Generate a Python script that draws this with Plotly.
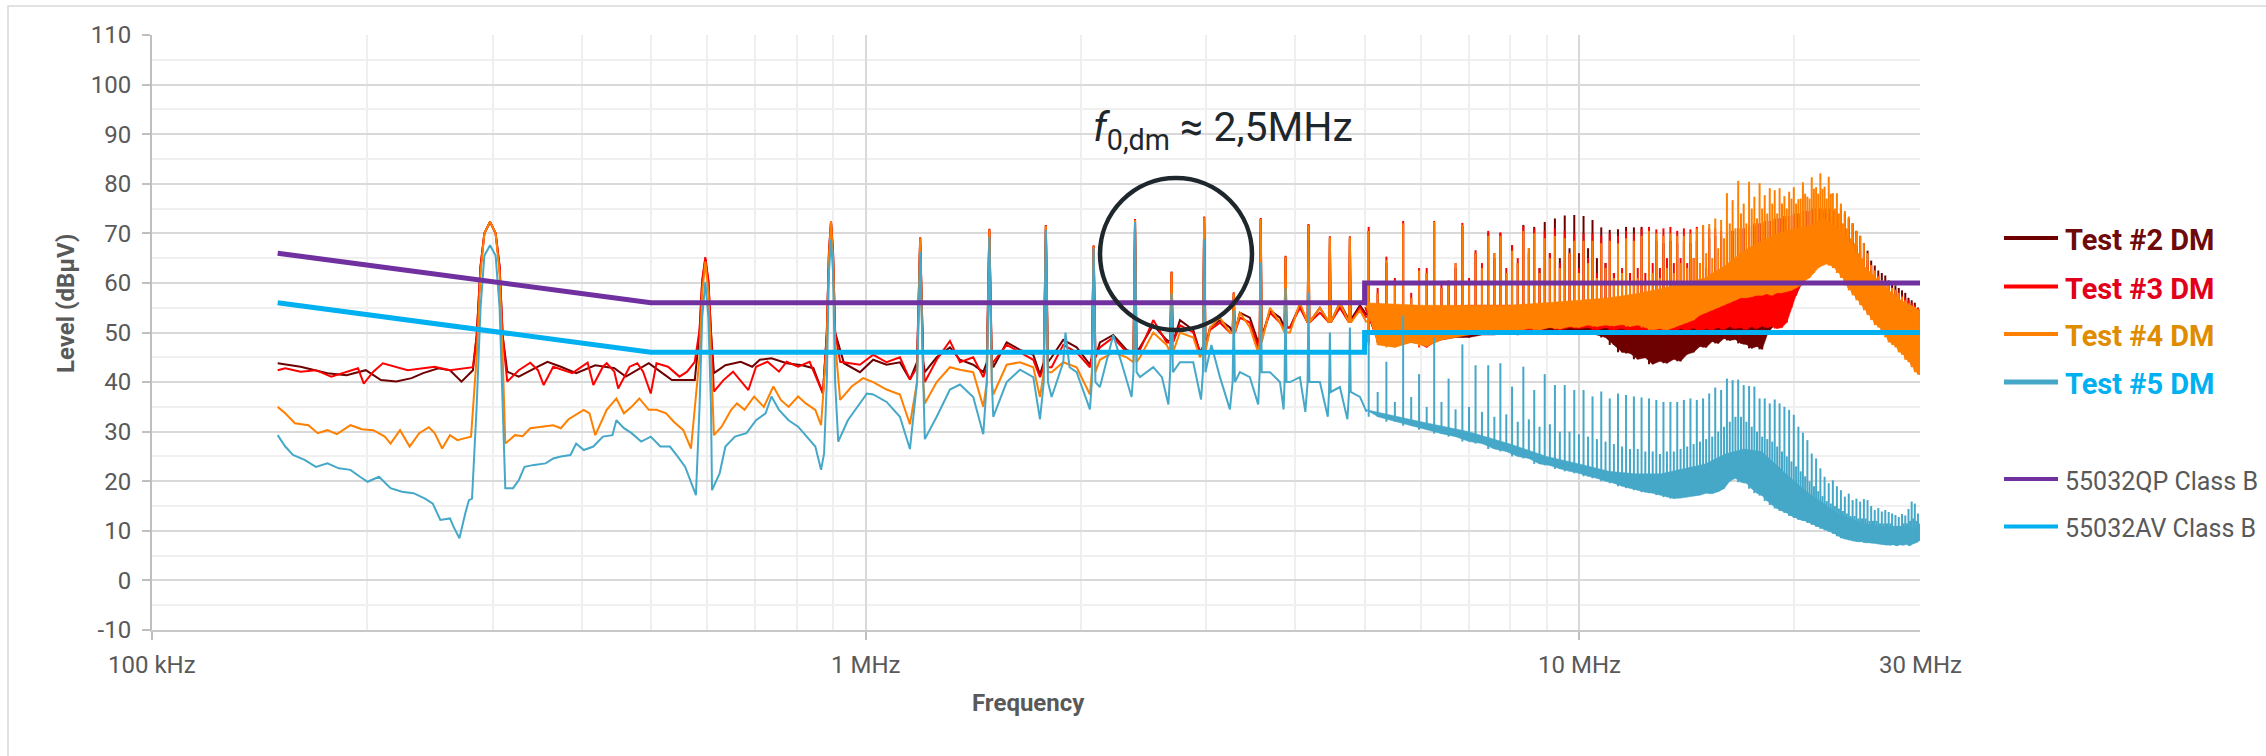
import math
import plotly.graph_objects as go

# ---------------- EN 55032 class B conducted limits ----------------
limit_f = [0.15, 0.5, 5.0, 5.0, 30.0]          # MHz
qp_db = [66, 56, 56, 60, 60]
av_db = [56, 46, 46, 50, 50]

# ---------------- spectra below 5 MHz (MHz, dBuV) ----------------
t2_lo_f = [
    0.1500, 0.1615, 0.1761, 0.1873, 0.1993, 0.2093, 0.2199, 0.2311, 0.2398, 0.2519,
    0.2615, 0.2714, 0.2816, 0.2850, 0.2886, 0.2922, 0.2976, 0.3030, 0.3069, 0.3100,
    0.3146, 0.3265, 0.3473, 0.3582, 0.3740, 0.3929, 0.4179, 0.4444, 0.4612, 0.4967,
    0.5155, 0.5351, 0.5761, 0.5850, 0.5900, 0.5960, 0.6020, 0.6070, 0.6128, 0.6359,
    0.6681, 0.6933, 0.7106, 0.7378, 0.7748, 0.8142, 0.8446, 0.8711, 0.8820, 0.8880,
    0.8940, 0.9000, 0.9060, 0.9323, 0.9815, 1.0245, 1.0696, 1.1166, 1.1532, 1.1800,
    1.1920, 1.2040, 1.2100, 1.2572, 1.3122, 1.3552, 1.4145, 1.4611, 1.4780, 1.4900,
    1.5020, 1.5089, 1.5757, 1.6450, 1.7170, 1.7545, 1.7760, 1.7880, 1.8000, 1.8216,
    1.8911, 1.9747, 2.0612, 2.0740, 2.0860, 2.0980, 2.1287, 2.2223, 2.3200, 2.3720,
    2.3840, 2.3960, 2.4224, 2.5287, 2.6400, 2.6700, 2.6820, 2.6940, 2.7558, 2.8769,
    2.9395, 2.9680, 2.9800, 2.9920, 3.0359, 3.1352, 3.2378, 3.2660, 3.2780, 3.2900,
    3.3437, 3.4530, 3.5468, 3.5640, 3.5760, 3.5880, 3.6846, 3.8051, 3.8620, 3.8740,
    3.8860, 3.9296, 4.0582, 4.1600, 4.1720, 4.1840, 4.3283, 4.4580, 4.4700, 4.4820,
    4.6166, 4.7550, 4.7680, 4.7810, 4.9252, 5.0322]
t2_lo_db = [
    43.8, 43.1, 41.8, 41.4, 42.4, 40.4, 40.1, 40.8, 41.8, 42.8,
    42.4, 40.1, 42.4, 49.2, 63.3, 70.0, 72.3, 70.0, 63.3, 49.2,
    42.1, 41.1, 43.1, 44.1, 43.1, 41.8, 43.4, 42.8, 41.1, 43.8,
    42.1, 40.4, 40.4, 50.0, 60.0, 64.8, 60.0, 50.0, 41.8, 43.4,
    44.1, 43.1, 44.5, 44.8, 43.8, 43.4, 42.8, 37.7, 50.0, 66.0,
    72.3, 66.0, 50.0, 43.8, 42.0, 44.5, 43.5, 44.0, 40.5, 44.0,
    69.0, 44.0, 42.0, 45.0, 47.0, 44.5, 43.5, 42.0, 44.0, 70.7,
    44.0, 43.0, 48.0, 46.5, 45.5, 41.5, 44.0, 71.5, 44.0, 45.0,
    48.5, 47.0, 43.5, 45.0, 67.4, 45.0, 48.0, 49.5, 46.5, 46.0,
    72.7, 46.0, 47.0, 51.5, 48.5, 48.0, 62.1, 48.0, 52.5, 50.5,
    46.0, 47.0, 73.2, 47.0, 51.0, 52.5, 51.0, 50.0, 57.9, 50.0,
    54.0, 53.0, 48.0, 49.0, 72.9, 49.0, 54.5, 53.0, 51.0, 65.3,
    51.0, 51.0, 55.5, 52.0, 71.7, 52.0, 55.0, 52.0, 69.2, 52.0,
    56.0, 52.5, 69.2, 52.5, 55.5, 53.5]

t3_lo_f = [
    0.1500, 0.1537, 0.1615, 0.1697, 0.1783, 0.1873, 0.1944, 0.1980, 0.2042, 0.2106,
    0.2199, 0.2282, 0.2398, 0.2489, 0.2615, 0.2747, 0.2816, 0.2850, 0.2886, 0.2922,
    0.2976, 0.3030, 0.3069, 0.3100, 0.3146, 0.3265, 0.3388, 0.3473, 0.3538, 0.3649,
    0.3881, 0.4077, 0.4153, 0.4283, 0.4336, 0.4444, 0.4500, 0.4669, 0.4786, 0.4876,
    0.4998, 0.5091, 0.5284, 0.5483, 0.5620, 0.5761, 0.5850, 0.5900, 0.5960, 0.6020,
    0.6070, 0.6128, 0.6320, 0.6518, 0.6848, 0.7020, 0.7285, 0.7559, 0.7748, 0.8040,
    0.8344, 0.8711, 0.8820, 0.8880, 0.8940, 0.9000, 0.9060, 0.9208, 0.9815, 1.0245,
    1.0696, 1.1166, 1.1532, 1.1800, 1.1920, 1.2040, 1.2100, 1.2572, 1.3122, 1.3552,
    1.4145, 1.4611, 1.4780, 1.4900, 1.5020, 1.5089, 1.5757, 1.6450, 1.7170, 1.7545,
    1.7760, 1.7880, 1.8000, 1.8216, 1.8911, 1.9747, 2.0612, 2.0740, 2.0860, 2.0980,
    2.1287, 2.2223, 2.3200, 2.3720, 2.3840, 2.3960, 2.4224, 2.5287, 2.6400, 2.6700,
    2.6820, 2.6940, 2.7558, 2.8769, 2.9395, 2.9680, 2.9800, 2.9920, 3.0359, 3.1352,
    3.2378, 3.2660, 3.2780, 3.2900, 3.3437, 3.4530, 3.5468, 3.5640, 3.5760, 3.5880,
    3.6846, 3.8051, 3.8620, 3.8740, 3.8860, 3.9296, 4.0582, 4.1600, 4.1720, 4.1840,
    4.3283, 4.4580, 4.4700, 4.4820, 4.6166, 4.7550, 4.7680, 4.7810, 4.9252, 5.0322]
t3_lo_db = [
    42.4, 42.8, 42.1, 42.4, 41.1, 42.1, 42.8, 39.7, 42.1, 43.8,
    43.1, 42.4, 42.8, 43.1, 42.4, 42.8, 43.0, 49.2, 63.3, 70.0,
    72.35, 70.0, 63.3, 49.2, 40.1, 42.4, 43.9, 42.4, 39.4, 43.1,
    41.8, 43.9, 39.4, 43.1, 43.8, 42.1, 38.7, 43.1, 43.8, 42.1,
    37.7, 43.8, 43.1, 41.1, 42.1, 44.1, 50.5, 60.5, 65.2, 60.5,
    50.5, 38.1, 40.4, 42.1, 38.4, 43.1, 44.1, 42.1, 44.1, 43.1,
    44.1, 37.7, 50.0, 66.0, 72.35, 66.0, 50.0, 44.1, 43.5, 45.5,
    44.0, 45.0, 40.5, 43.0, 69.2, 43.0, 40.0, 44.5, 48.3, 44.0,
    45.0, 41.0, 43.0, 70.9, 43.0, 44.0, 47.5, 46.0, 44.5, 41.0,
    43.0, 71.7, 43.0, 43.0, 47.5, 46.0, 43.0, 45.0, 67.6, 45.0,
    47.0, 49.0, 46.0, 46.0, 72.9, 46.0, 46.5, 52.5, 48.0, 48.0,
    62.3, 48.0, 51.5, 50.0, 46.0, 47.0, 73.4, 47.0, 50.5, 52.0,
    50.0, 50.0, 58.1, 50.0, 53.0, 52.0, 47.0, 49.0, 73.1, 49.0,
    54.0, 52.0, 51.0, 65.5, 51.0, 51.0, 55.0, 52.0, 71.9, 52.0,
    54.0, 52.0, 69.4, 52.0, 55.0, 52.0, 69.4, 52.0, 55.0, 53.0]

t4_lo_f = [
    0.1500, 0.1537, 0.1586, 0.1656, 0.1707, 0.1761, 0.1816, 0.1897, 0.1968, 0.2042,
    0.2119, 0.2159, 0.2226, 0.2296, 0.2368, 0.2443, 0.2489, 0.2550, 0.2615, 0.2679,
    0.2747, 0.2799, 0.2850, 0.2886, 0.2922, 0.2976, 0.3030, 0.3069, 0.3100, 0.3126,
    0.3225, 0.3306, 0.3388, 0.3560, 0.3649, 0.3740, 0.3834, 0.4027, 0.4102, 0.4179,
    0.4336, 0.4473, 0.4584, 0.4698, 0.4817, 0.4967, 0.5091, 0.5252, 0.5383, 0.5552,
    0.5691, 0.5850, 0.5900, 0.5960, 0.6020, 0.6070, 0.6128, 0.6281, 0.6478, 0.6600,
    0.6764, 0.6976, 0.7197, 0.7423, 0.7604, 0.7796, 0.8040, 0.8242, 0.8499, 0.8658,
    0.8820, 0.8880, 0.8940, 0.9000, 0.9060, 0.9208, 0.9556, 0.9916, 1.0245, 1.0696,
    1.1166, 1.1532, 1.1800, 1.1920, 1.2040, 1.2100, 1.2572, 1.3122, 1.3552, 1.4145,
    1.4611, 1.4780, 1.4900, 1.5020, 1.5089, 1.5757, 1.6450, 1.7170, 1.7545, 1.7760,
    1.7880, 1.8000, 1.8216, 1.8911, 1.9747, 2.0612, 2.0740, 2.0860, 2.0980, 2.1287,
    2.2223, 2.3200, 2.3720, 2.3840, 2.3960, 2.4224, 2.5287, 2.6400, 2.6700, 2.6820,
    2.6940, 2.7558, 2.8769, 2.9395, 2.9680, 2.9800, 2.9920, 3.0359, 3.1352, 3.2378,
    3.2660, 3.2780, 3.2900, 3.3437, 3.4530, 3.5468, 3.5640, 3.5760, 3.5880, 3.6846,
    3.8051, 3.8620, 3.8740, 3.8860, 3.9296, 4.0582, 4.1600, 4.1720, 4.1840, 4.3283,
    4.4580, 4.4700, 4.4820, 4.6166, 4.7550, 4.7680, 4.7810, 4.9252, 5.0322]
t4_lo_db = [
    35.0, 33.7, 31.7, 31.3, 29.7, 30.3, 29.5, 31.3, 30.5, 30.3,
    29.0, 27.6, 30.3, 27.0, 29.7, 30.9, 29.7, 26.6, 29.3, 28.3,
    28.7, 29.0, 45.0, 62.0, 70.0, 72.35, 70.0, 62.0, 45.0, 27.6,
    29.3, 29.1, 30.7, 31.0, 31.3, 30.7, 32.5, 34.4, 33.7, 29.3,
    34.4, 36.7, 33.7, 35.0, 36.7, 34.4, 34.4, 33.7, 32.0, 30.3,
    26.6, 45.0, 58.0, 64.3, 58.0, 45.0, 29.3, 31.0, 34.4, 35.7,
    34.4, 37.1, 35.0, 39.1, 36.4, 35.0, 37.1, 35.7, 34.4, 31.3,
    48.0, 65.0, 72.35, 65.0, 48.0, 36.4, 39.1, 40.8, 40.0, 38.5,
    37.5, 31.5, 40.0, 69.0, 40.0, 35.7, 40.0, 43.0, 42.5, 42.0,
    35.0, 40.0, 70.7, 40.0, 37.5, 43.5, 44.0, 43.0, 37.0, 42.0,
    71.5, 42.0, 42.0, 44.0, 43.0, 37.5, 42.0, 67.4, 42.0, 44.5,
    46.0, 45.0, 44.0, 72.7, 44.0, 45.0, 50.0, 47.5, 46.0, 62.1,
    46.0, 50.0, 49.0, 45.0, 46.0, 73.2, 46.0, 51.0, 53.0, 50.0,
    50.0, 57.9, 50.0, 54.0, 51.0, 46.0, 48.0, 72.9, 48.0, 55.0,
    52.0, 50.0, 65.3, 50.0, 50.0, 56.0, 52.0, 71.7, 52.0, 55.0,
    52.0, 69.2, 52.0, 56.0, 52.0, 69.2, 52.0, 54.5, 52.0]

t5_lo_f = [
    0.1500, 0.1537, 0.1576, 0.1636, 0.1697, 0.1761, 0.1827, 0.1897, 0.1956, 0.2005,
    0.2080, 0.2159, 0.2240, 0.2325, 0.2413, 0.2474, 0.2535, 0.2615, 0.2646, 0.2696,
    0.2747, 0.2780, 0.2808, 0.2850, 0.2886, 0.2922, 0.2976, 0.3030, 0.3069, 0.3100,
    0.3126, 0.3205, 0.3265, 0.3326, 0.3430, 0.3560, 0.3649, 0.3740, 0.3857, 0.3929,
    0.4027, 0.4153, 0.4283, 0.4417, 0.4473, 0.4584, 0.4698, 0.4846, 0.4998, 0.5155,
    0.5317, 0.5450, 0.5586, 0.5782, 0.5850, 0.5900, 0.5960, 0.6020, 0.6070, 0.6090,
    0.6242, 0.6359, 0.6559, 0.6806, 0.7020, 0.7239, 0.7378, 0.7559, 0.7796, 0.8040,
    0.8344, 0.8499, 0.8658, 0.8743, 0.8820, 0.8880, 0.8940, 0.9000, 0.9060, 0.9151,
    0.9440, 0.9733, 1.0039, 1.0245, 1.0696, 1.1166, 1.1532, 1.1800, 1.1920, 1.2040,
    1.2100, 1.2572, 1.3122, 1.3552, 1.4145, 1.4611, 1.4780, 1.4900, 1.5020, 1.5089,
    1.5757, 1.6450, 1.7170, 1.7545, 1.7760, 1.7880, 1.8000, 1.8216, 1.8911, 1.9050,
    1.9300, 1.9747, 2.0612, 2.0740, 2.0860, 2.0980, 2.1287, 2.2223, 2.3000, 2.3577,
    2.3720, 2.3840, 2.3960, 2.4224, 2.5287, 2.6000, 2.6550, 2.6700, 2.6820, 2.6940,
    2.7558, 2.8769, 2.9500, 2.9680, 2.9800, 2.9920, 3.0500, 3.1352, 3.2378, 3.2660,
    3.2780, 3.2900, 3.3437, 3.4530, 3.5468, 3.5640, 3.5760, 3.5880, 3.6846, 3.8051,
    3.8500, 3.8620, 3.8740, 3.8860, 3.9296, 4.0582, 4.1300, 4.1600, 4.1720, 4.1840,
    4.3283, 4.4400, 4.4580, 4.4700, 4.4820, 4.6166, 4.7300, 4.7550, 4.7680, 4.7810,
    4.9252, 5.0322]
t5_lo_db = [
    29.3, 27.0, 25.3, 24.3, 22.9, 23.6, 22.6, 22.3, 20.9, 19.9,
    20.9, 18.6, 17.9, 17.6, 16.5, 15.5, 12.2, 12.5, 10.8, 8.5,
    13.5, 16.2, 16.5, 35.0, 55.0, 65.5, 67.6, 65.5, 55.0, 35.0,
    18.6, 18.6, 20.2, 22.9, 23.3, 23.6, 24.6, 25.0, 25.3, 27.6,
    26.3, 27.0, 29.0, 29.3, 32.3, 30.7, 29.7, 28.0, 29.0, 27.0,
    27.0, 25.0, 22.9, 17.2, 35.0, 53.0, 60.2, 53.0, 35.0, 18.2,
    21.6, 27.0, 29.0, 29.7, 32.3, 33.7, 37.1, 34.4, 32.3, 31.0,
    28.3, 27.0, 22.3, 25.6, 40.0, 62.0, 68.8, 62.0, 40.0, 28.0,
    32.3, 35.0, 37.7, 37.5, 36.0, 33.0, 26.5, 40.0, 66.3, 40.0,
    28.5, 33.0, 38.5, 39.5, 37.0, 29.5, 40.0, 69.3, 40.0, 33.0,
    40.0, 42.5, 41.0, 32.5, 40.0, 70.7, 40.0, 37.0, 44.0, 50.0,
    43.0, 42.0, 34.5, 40.0, 67.0, 40.0, 39.0, 49.5, 42.0, 37.0,
    42.0, 72.3, 42.0, 41.0, 43.0, 41.0, 35.5, 42.0, 57.9, 42.0,
    44.0, 44.0, 36.5, 42.0, 68.8, 42.0, 47.5, 41.0, 34.5, 40.0,
    54.5, 40.0, 42.0, 41.0, 35.5, 42.0, 64.1, 42.0, 42.0, 40.0,
    34.5, 40.0, 58.9, 40.0, 40.0, 41.0, 34.0, 40.0, 58.0, 40.0,
    40.0, 33.0, 38.0, 50.0, 38.0, 39.0, 32.5, 38.0, 51.0, 38.0,
    37.0, 34.0]

# ---------------- 5-30 MHz: harmonic lines and noise band ----------------
# harmonic frequencies (MHz), orders 17..100 of the ~298 kHz switching frequency
harm_f = [
    5.066, 5.364, 5.662, 5.960, 6.258, 6.556, 6.854, 7.152, 7.450, 7.748,
    8.046, 8.344, 8.642, 8.940, 9.238, 9.536, 9.834, 10.132, 10.430, 10.728,
    11.026, 11.324, 11.622, 11.920, 12.218, 12.516, 12.814, 13.112, 13.410, 13.708,
    14.006, 14.304, 14.602, 14.900, 15.198, 15.496, 15.794, 16.092, 16.390, 16.688,
    16.986, 17.284, 17.582, 17.880, 18.178, 18.476, 18.774, 19.072, 19.370, 19.668,
    19.966, 20.264, 20.562, 20.860, 21.158, 21.456, 21.754, 22.052, 22.350, 22.648,
    22.946, 23.244, 23.542, 23.840, 24.138, 24.436, 24.734, 25.032, 25.330, 25.628,
    25.926, 26.224, 26.522, 26.820, 27.118, 27.416, 27.714, 28.012, 28.310, 28.608,
    28.906, 29.204, 29.502, 29.800]
# points halfway between harmonics (MHz)
mid_f = [
    5.215, 5.513, 5.811, 6.109, 6.407, 6.705, 7.003, 7.301, 7.599, 7.897,
    8.195, 8.493, 8.791, 9.089, 9.387, 9.685, 9.983, 10.281, 10.579, 10.877,
    11.175, 11.473, 11.771, 12.069, 12.367, 12.665, 12.963, 13.261, 13.559, 13.857,
    14.155, 14.453, 14.751, 15.049, 15.347, 15.645, 15.943, 16.241, 16.539, 16.837,
    17.135, 17.433, 17.731, 18.029, 18.327, 18.625, 18.923, 19.221, 19.519, 19.817,
    20.115, 20.413, 20.711, 21.009, 21.307, 21.605, 21.903, 22.201, 22.499, 22.797,
    23.095, 23.393, 23.691, 23.989, 24.287, 24.585, 24.883, 25.181, 25.479, 25.777,
    26.075, 26.373, 26.671, 26.969, 27.267, 27.565, 27.863, 28.161, 28.459, 28.757,
    29.055, 29.353, 29.651, 29.949]
# upper edge of the dense noise band (MHz grid)
band_f = [5.0, 6.0, 7.0, 8.0, 9.0, 10.0, 11.0, 12.0, 13.0, 14.0, 15.0, 16.0, 17.0,
          18.0, 19.0, 20.0, 21.0, 22.0, 23.0, 24.0, 25.0, 26.0, 27.0, 28.0, 29.0, 30.0]

# per test: harmonic peaks (pk), floor between harmonics (tr),
# in-between spurs (sub) and noise band upper edge (band)
t2_pk = [
    70.5, 64.0, 72.0, 62.0, 72.0, 60.0, 71.5, 66.0, 70.0, 70.0,
    67.6, 71.7, 71.3, 72.3, 73.0, 73.6, 73.7, 73.5, 72.7, 71.2,
    70.7, 70.8, 71.3, 71.2, 71.3, 69.0, 68.5, 68.0, 68.5, 68.0,
    68.5, 68.0, 68.5, 69.0, 69.0, 69.5, 69.5, 70.0, 70.5, 71.0,
    71.0, 71.5, 72.0, 72.0, 72.5, 72.5, 73.0, 73.0, 73.5, 73.5,
    74.0, 74.0, 74.5, 74.5, 75.0, 75.0, 75.0, 75.0, 75.0, 74.5,
    74.0, 75.0, 74.0, 73.0, 72.0, 70.5, 69.5, 68.0, 66.5, 64.5,
    63.5, 62.5, 62.0, 61.5, 60.5, 60.0, 59.5, 59.0, 58.5, 58.0,
    57.0, 56.5, 56.0, 55.0]
t2_tr = [
    48.0, 47.5, 48.0, 47.5, 48.5, 49.0, 49.0, 49.5, 49.5, 50.0,
    49.5, 50.0, 50.0, 50.5, 50.0, 50.5, 50.0, 50.0, 49.5, 49.0,
    47.5, 46.0, 45.8, 44.6, 44.9, 43.6, 44.2, 43.8, 44.6, 44.2,
    45.6, 46.0, 47.2, 47.0, 48.2, 47.8, 48.8, 48.4, 48.6, 47.8,
    47.6, 46.8, 47.2, 46.6, 49.5, 51.0, 52.5, 54.0, 55.5, 56.5,
    57.5, 59.5, 61.0, 61.5, 62.5, 63.5, 64.0, 64.3, 64.0, 63.5,
    62.5, 61.5, 60.0, 59.0, 58.0, 57.0, 56.0, 55.0, 54.0, 53.0,
    52.0, 51.5, 50.5, 49.5, 48.5, 48.0, 47.5, 46.5, 46.0, 45.0,
    44.5, 43.5, 42.5, 42.0]
t2_sub = [
    58.0, 60.0, 57.0, 62.0, 59.0, 63.0, 60.0, 63.0, 65.0, 62.0,
    64.0, 66.0, 63.0, 66.0, 65.0, 67.0, 66.0, 67.0, 65.0, 64.0,
    62.0, 60.0, 55.0, 54.0, 54.0, 53.0, 53.0, 54.0, 54.0, 55.0,
    55.0, 55.0, 56.0, 56.0, 57.0, 57.5, 58.0, 58.0, 58.0, 58.0,
    57.5, 57.5, 58.0, 59.0, 60.0, 61.0, 62.0, 63.0, 64.0, 65.0,
    66.0, 67.0, 68.0, 69.0, 69.0, 70.0, 70.0, 69.0, 68.0, 67.0,
    69.0, 68.0, 67.0, 66.0, 65.0, 64.0, 63.0, 62.0, 61.0, 60.0,
    59.5, 59.0, 58.5, 58.0, 57.5, 57.0, 56.5, 56.0, 55.5, 55.0,
    54.5, 54.0, 53.5, 53.0]
t2_band = [55.0, 55.0, 55.0, 55.0, 55.5, 55.0, 53.5, 52.0, 52.0, 52.5, 53.0, 53.0, 52.5,
           53.0, 57.0, 61.5, 65.0, 66.5, 66.5, 64.5, 61.5, 58.5, 57.0, 56.0, 55.0, 54.5]

t3_pk = [
    71.3, 65.3, 72.5, 63.0, 72.5, 60.5, 72.1, 66.6, 70.5, 70.2,
    67.6, 71.5, 71.0, 70.5, 71.0, 70.5, 70.0, 70.0, 70.0, 69.5,
    70.0, 69.5, 70.5, 70.0, 71.0, 71.3, 70.8, 71.0, 71.3, 70.5,
    71.0, 70.8, 71.3, 71.5, 71.0, 71.0, 70.5, 70.0, 70.5, 71.0,
    71.0, 71.5, 71.5, 72.0, 72.0, 72.5, 72.5, 73.0, 73.0, 73.5,
    73.5, 74.0, 74.0, 74.5, 74.5, 74.5, 75.0, 74.5, 74.0, 73.5,
    72.5, 71.5, 70.5, 69.5, 68.5, 67.5, 66.5, 65.5, 64.5, 63.5,
    62.5, 61.5, 60.5, 60.0, 59.5, 59.0, 58.5, 58.0, 57.5, 57.0,
    56.5, 56.0, 55.5, 55.0]
t3_tr = [
    48.0, 47.5, 48.5, 47.0, 49.0, 49.5, 49.5, 50.0, 50.0, 50.5,
    50.0, 50.5, 50.5, 51.0, 50.5, 51.0, 50.8, 51.0, 50.5, 51.0,
    50.5, 50.8, 50.3, 50.6, 50.2, 50.5, 50.0, 50.6, 50.2, 50.8,
    50.4, 50.9, 50.3, 50.8, 50.5, 51.0, 50.6, 51.2, 50.8, 51.0,
    50.6, 51.2, 50.8, 51.3, 51.0, 51.2, 50.8, 51.0, 52.0, 55.0,
    57.5, 59.5, 61.0, 61.5, 62.5, 63.5, 64.0, 64.3, 64.0, 63.5,
    62.5, 61.5, 60.0, 59.0, 58.0, 57.0, 56.0, 55.0, 54.0, 53.0,
    52.0, 51.5, 50.5, 49.5, 48.5, 48.0, 47.5, 46.5, 46.0, 45.0,
    44.5, 43.5, 42.5, 42.0]
t3_sub = [
    59.0, 61.0, 58.0, 63.0, 60.0, 64.0, 61.0, 64.0, 66.0, 63.0,
    65.0, 67.0, 63.0, 66.0, 64.0, 66.0, 63.0, 65.0, 62.0, 64.0,
    62.0, 63.0, 62.0, 63.0, 62.0, 64.0, 63.0, 65.0, 64.0, 65.0,
    64.0, 65.0, 64.0, 63.0, 62.0, 62.0, 62.0, 63.0, 63.0, 64.0,
    64.0, 65.0, 65.0, 66.0, 66.0, 67.0, 67.0, 68.0, 68.0, 69.0,
    69.0, 70.0, 70.0, 71.0, 71.0, 72.0, 72.0, 71.0, 70.0, 69.0,
    68.0, 67.0, 66.0, 65.0, 64.0, 63.0, 62.0, 61.0, 60.0, 59.0,
    58.5, 58.0, 57.5, 57.0, 56.5, 56.0, 55.5, 55.0, 54.5, 54.0,
    53.5, 53.0, 52.5, 52.0]
t3_band = [55.0, 55.0, 55.5, 55.5, 55.5, 56.0, 56.0, 56.5, 56.0, 56.0, 56.5, 58.0, 58.6,
           58.6, 58.0, 62.0, 65.5, 67.0, 67.0, 65.0, 62.0, 59.0, 57.0, 56.0, 55.0, 54.5]

t4_pk = [
    70.5, 64.6, 72.0, 62.5, 72.3, 60.0, 71.7, 66.0, 69.5, 69.5,
    66.5, 70.5, 70.0, 69.0, 69.5, 69.0, 68.5, 68.5, 68.5, 68.0,
    68.5, 68.0, 69.0, 68.5, 69.5, 70.5, 70.0, 69.5, 70.0, 69.5,
    69.5, 70.0, 71.0, 71.7, 71.9, 73.0, 72.7, 78.1, 76.7, 80.6,
    76.0, 80.4, 77.4, 80.1, 77.7, 79.1, 78.7, 79.1, 77.5, 78.4,
    79.3, 76.9, 80.3, 77.4, 81.3, 79.3, 82.1, 79.4, 81.4, 78.1,
    78.1, 76.0, 74.5, 73.4, 72.0, 70.5, 69.5, 68.0, 66.0, 63.6,
    62.5, 61.3, 60.5, 60.0, 59.6, 59.0, 58.6, 58.0, 57.2, 56.5,
    55.9, 55.5, 55.2, 54.2]
t4_tr = [
    47.5, 47.0, 48.0, 47.2, 48.5, 49.0, 49.5, 50.0, 49.8, 50.5,
    50.3, 50.8, 50.5, 51.0, 50.7, 51.2, 51.0, 51.5, 51.2, 51.5,
    51.3, 51.6, 51.2, 51.5, 51.0, 50.5, 50.8, 50.5, 51.0, 51.5,
    52.0, 52.5, 53.5, 54.0, 54.5, 55.0, 55.5, 56.0, 56.5, 57.0,
    57.0, 57.2, 57.5, 57.5, 57.8, 57.5, 58.0, 58.0, 58.2, 58.5,
    59.0, 59.5, 60.5, 61.0, 62.0, 63.0, 63.5, 63.8, 63.5, 63.0,
    62.0, 61.0, 59.5, 58.5, 57.5, 56.5, 55.5, 54.5, 53.5, 52.5,
    51.5, 51.0, 50.0, 49.0, 48.0, 47.5, 47.0, 46.0, 45.5, 44.5,
    44.0, 43.0, 42.0, 41.5]
t4_sub = [
    58.0, 60.0, 57.0, 62.0, 59.0, 64.0, 60.0, 63.0, 66.0, 62.0,
    64.0, 67.0, 62.0, 65.0, 63.0, 66.0, 62.0, 64.0, 61.0, 63.0,
    61.0, 62.0, 60.0, 61.0, 60.0, 62.0, 61.0, 63.0, 62.0, 64.0,
    63.0, 65.0, 64.0, 66.0, 65.0, 67.0, 69.0, 72.0, 71.0, 74.0,
    72.0, 75.0, 73.0, 75.0, 74.0, 76.0, 74.0, 76.0, 75.0, 77.0,
    76.0, 77.0, 78.0, 77.0, 79.0, 78.0, 79.0, 77.0, 78.0, 75.0,
    74.0, 72.0, 71.0, 69.0, 68.0, 66.0, 65.0, 63.0, 62.0, 60.0,
    59.0, 58.0, 57.5, 57.0, 56.5, 56.0, 55.5, 55.0, 54.5, 54.0,
    53.5, 53.0, 52.5, 52.0]
t4_band = [56.0, 55.5, 55.5, 55.5, 56.0, 56.5, 57.0, 57.8, 58.8, 60.0, 61.0, 63.5, 66.5,
           68.5, 70.0, 71.0, 71.5, 73.0, 71.0, 67.8, 63.5, 61.2, 58.8, 56.8, 55.5, 54.5]

t5_pk = [
    50.0, 44.1, 53.4, 41.6, 49.0, 40.7, 47.6, 43.4, 43.4, 43.8,
    39.1, 43.1, 38.4, 41.6, 39.4, 39.4, 38.4, 38.4, 37.1, 38.1,
    36.7, 37.7, 37.4, 37.1, 36.9, 36.7, 36.4, 36.0, 36.0, 36.0,
    36.4, 36.7, 36.4, 36.7, 37.7, 38.9, 38.4, 40.7, 40.4, 40.5,
    39.4, 39.2, 39.1, 36.7, 36.7, 35.7, 36.5, 35.7, 35.0, 34.4,
    33.4, 31.0, 29.8, 28.3, 25.6, 24.6, 22.6, 20.9, 19.6, 20.2,
    19.0, 18.2, 16.9, 17.5, 16.2, 16.5, 15.9, 16.4, 16.2, 15.0,
    14.2, 14.6, 13.9, 14.2, 13.8, 13.5, 13.2, 12.8, 13.4, 13.1,
    14.4, 15.9, 15.5, 13.5]
t5_tr = [
    33.0, 32.0, 31.2, 30.4, 29.6, 29.0, 28.0, 27.6, 26.5, 26.0,
    25.0, 24.6, 23.5, 23.2, 22.5, 22.0, 21.6, 21.0, 20.6, 20.0,
    19.6, 19.0, 18.6, 18.2, 17.8, 17.6, 17.2, 16.8, 16.5, 16.6,
    16.8, 17.1, 17.2, 17.6, 17.5, 17.9, 18.5, 20.0, 20.6, 19.8,
    19.6, 18.5, 17.6, 17.1, 16.0, 15.2, 14.5, 14.0, 13.6, 13.0,
    12.6, 12.2, 12.0, 11.6, 11.2, 10.8, 10.4, 10.1, 9.8, 9.4,
    8.9, 8.5, 8.3, 8.1, 7.9, 7.8, 7.8, 7.6, 7.6, 7.5,
    7.5, 7.3, 7.2, 7.1, 7.1, 7.2, 7.0, 7.2, 7.1, 7.3,
    7.0, 7.4, 7.6, 8.0]
t5_sub = [
    38.0, 36.0, 37.0, 35.0, 36.0, 34.5, 35.0, 34.0, 33.0, 33.5,
    32.0, 32.5, 31.0, 31.5, 30.0, 30.0, 29.5, 29.0, 28.5, 28.0,
    27.5, 27.0, 26.5, 26.5, 26.0, 26.0, 25.5, 26.0, 26.0, 26.5,
    27.0, 27.5, 28.0, 28.5, 29.0, 30.0, 31.0, 32.0, 33.0, 33.0,
    32.0, 31.0, 30.0, 29.0, 28.5, 28.0, 27.0, 26.0, 25.0, 24.0,
    23.0, 22.0, 21.0, 20.0, 19.0, 18.0, 17.0, 16.0, 15.5, 15.0,
    14.5, 14.0, 13.5, 13.0, 13.0, 12.5, 12.5, 12.5, 12.0, 12.0,
    12.0, 11.5, 11.5, 11.5, 11.5, 11.0, 11.0, 11.0, 11.5, 11.5,
    12.0, 12.5, 12.0, 11.5]
t5_band = [34.5, 32.0, 30.0, 27.5, 25.0, 23.5, 22.0, 21.5, 21.5, 22.5, 23.5, 25.5, 26.5,
           26.0, 23.0, 20.0, 17.5, 15.5, 13.5, 12.5, 11.5, 11.0, 10.8, 10.8, 10.8, 10.5]

# ---------------- styling ----------------
C_T2, C_T3, C_T4, C_T5 = "#6E0000", "#FF0000", "#FF8000", "#46A8C8"
C_QP, C_AV = "#7030A0", "#00B0F0"
GRAY_TXT = "#595959"
FONT = "Roboto"

W, H = 2266, 756
ML, MR, MT, MB = 152, 346, 35, 126
PW, PH = W - ML - MR, H - MT - MB


def px(xpix):
    return (xpix - ML) / PW


def py(ypix):
    return (H - MB - ypix) / PH


fig = go.Figure()


def add_test(lo_f, lo_db, pk, tr, sub, band, color):
    # dense emission band above 5 MHz
    fig.add_trace(go.Scatter(
        x=mid_f + band_f[::-1], y=tr + band[::-1], mode="lines", fill="toself",
        fillcolor=color, line=dict(color=color, width=0.5), hoverinfo="skip",
        showlegend=False))
    # spectrum up to 5 MHz
    fig.add_trace(go.Scatter(
        x=lo_f, y=lo_db, mode="lines", line=dict(color=color, width=2),
        showlegend=False))
    # harmonic lines and in-between spurs above 5 MHz
    sx, sy = [], []
    for f, m, p, t, s in zip(harm_f, mid_f, pk, tr, sub):
        sx += [f, f, None, m, m, None]
        sy += [t, p, None, t, s, None]
    fig.add_trace(go.Scatter(
        x=sx, y=sy, mode="lines", line=dict(color=color, width=2),
        showlegend=False, connectgaps=False))


add_test(t2_lo_f, t2_lo_db, t2_pk, t2_tr, t2_sub, t2_band, C_T2)
add_test(t3_lo_f, t3_lo_db, t3_pk, t3_tr, t3_sub, t3_band, C_T3)
add_test(t4_lo_f, t4_lo_db, t4_pk, t4_tr, t4_sub, t4_band, C_T4)
add_test(t5_lo_f, t5_lo_db, t5_pk, t5_tr, t5_sub, t5_band, C_T5)

fig.add_trace(go.Scatter(x=limit_f, y=qp_db, mode="lines",
                         line=dict(color=C_QP, width=5), showlegend=False))
fig.add_trace(go.Scatter(x=limit_f, y=av_db, mode="lines",
                         line=dict(color=C_AV, width=5), showlegend=False))

# ---------------- axes ----------------
y_ticks = list(range(-10, 111, 10))
fig.update_xaxes(
    type="log", range=[-1, math.log10(30)],
    tickmode="array", tickvals=[0.1, 1, 10], showticklabels=False,
    ticks="outside", ticklen=8, tickwidth=1.5, tickcolor="#BFBFBF",
    showgrid=True, gridcolor="#D9D9D9", gridwidth=1.5,
    minor=dict(tickmode="array",
               tickvals=[0.2, 0.3, 0.4, 0.5, 0.6, 0.7, 0.8, 0.9,
                         2, 3, 4, 5, 6, 7, 8, 9, 20, 30],
               showgrid=True, gridcolor="#EFEFEF", gridwidth=1.5, ticks=""),
    showline=True, linecolor="#C8C8C8", linewidth=2, zeroline=False,
)
fig.update_yaxes(
    range=[-10, 110], tickmode="array", tickvals=y_ticks,
    ticktext=[str(v) for v in y_ticks],
    ticks="outside", ticklen=8, tickwidth=1.5, tickcolor="#BFBFBF",
    tickfont=dict(family=FONT, size=24, color=GRAY_TXT), ticklabelstandoff=6,
    showgrid=True, gridcolor="#D9D9D9", gridwidth=1.5,
    minor=dict(tickmode="array", tickvals=list(range(-5, 106, 10)),
               showgrid=True, gridcolor="#F0F0F0", gridwidth=1.5, ticks=""),
    showline=True, linecolor="#BFBFBF", linewidth=2, zeroline=False,
)

annotations = []
# x tick labels
for label, xp in [("100 kHz", 0.0), ("1 MHz", 1 / math.log10(300)),
                  ("10 MHz", 2 / math.log10(300)), ("30 MHz", 1.0)]:
    annotations.append(dict(x=xp, y=py(665), xref="paper", yref="paper", text=label,
                            showarrow=False, xanchor="center", yanchor="middle",
                            font=dict(family=FONT, size=24, color=GRAY_TXT)))
# axis titles
annotations.append(dict(x=px(66), y=py(304), xref="paper", yref="paper",
                        text="<b>Level (dBµV)</b>", textangle=-90, showarrow=False,
                        xanchor="center", yanchor="middle",
                        font=dict(family=FONT, size=24, color=GRAY_TXT)))
annotations.append(dict(x=px(1028), y=py(703), xref="paper", yref="paper",
                        text="<b>Frequency</b>", showarrow=False,
                        xanchor="center", yanchor="middle",
                        font=dict(family=FONT, size=24, color=GRAY_TXT)))
# resonance note
annotations.append(dict(x=px(1223), y=py(130), xref="paper", yref="paper",
                        text="<i>f</i><sub>0,dm</sub> ≈ 2,5MHz", showarrow=False,
                        xanchor="center", yanchor="middle",
                        font=dict(family=FONT, size=41, color="#1E272C")))

shapes = [
    # chart frame
    dict(type="rect", xref="paper", yref="paper", x0=px(8), x1=px(2400),
         y0=py(900), y1=py(6), line=dict(color="#D9D9D9", width=1.5), layer="below"),
    # ellipse around the resonance region
    dict(type="circle", xref="paper", yref="paper", x0=px(1100), x1=px(1252),
         y0=py(330), y1=py(178), line=dict(color="#1E272C", width=4.5)),
]

# legend
legend_rows = [
    ("<b>Test #2 DM</b>", C_T2, "#6E0A0A", 238, 29, 4),
    ("<b>Test #3 DM</b>", C_T3, "#E2001A", 286.5, 29, 4),
    ("<b>Test #4 DM</b>", C_T4, "#E08C00", 334, 29, 4),
    ("<b>Test #5 DM</b>", C_T5, "#00B0F0", 382, 29, 5),
    ("55032QP Class B", C_QP, GRAY_TXT, 479, 25, 4),
    ("55032AV Class B", C_AV, GRAY_TXT, 526.5, 25, 4),
]
for text, lcol, tcol, ypix, fsize, lw in legend_rows:
    shapes.append(dict(type="line", xref="paper", yref="paper", x0=px(2004), x1=px(2058),
                       y0=py(ypix), y1=py(ypix), line=dict(color=lcol, width=lw)))
    annotations.append(dict(x=px(2063), y=py(ypix + 2), xref="paper", yref="paper",
                            text=text, showarrow=False, xanchor="left", yanchor="middle",
                            font=dict(family=FONT, size=fsize, color=tcol)))

fig.update_layout(
    width=W, height=H, autosize=False,
    margin=dict(l=ML, r=MR, t=MT, b=MB, pad=0),
    paper_bgcolor="white", plot_bgcolor="white",
    font=dict(family=FONT, color=GRAY_TXT),
    showlegend=False, shapes=shapes, annotations=annotations,
)

fig.write_html("out.html")
